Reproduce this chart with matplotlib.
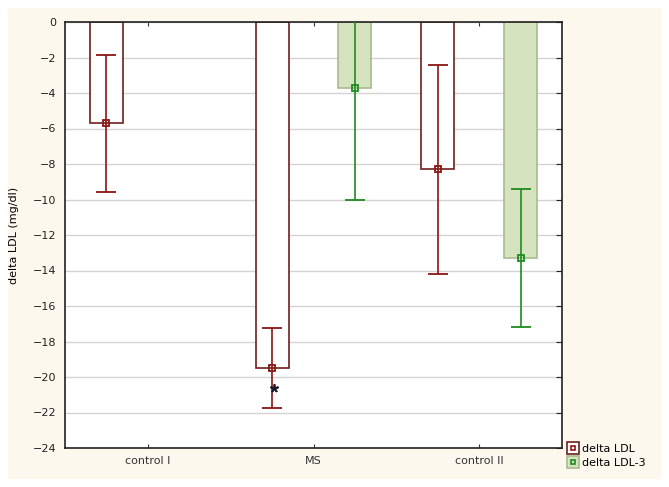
"""Grouped bar chart of delta LDL / delta LDL-3 with error bars."""

import matplotlib

matplotlib.use("Agg")
import matplotlib.pyplot as plt  # noqa: E402
import numpy as np  # noqa: E402
from matplotlib.patches import Rectangle  # noqa: E402
from matplotlib.lines import Line2D  # noqa: E402

groups = ["control I", "MS", "control II"]
ldl = [-5.7, -19.5, -8.3]
ldl_err = [3.85, 2.25, 5.9]
ldl3 = [np.nan, -3.7, -13.3]
ldl3_err = [np.nan, 6.3, 3.9]
star_value = -20.6  # significance marker under MS

red_edge = "#6e1f1f"
red_err = "#8b1515"
green_fill = "#d6e3bf"
green_edge = "#a9b98f"
green_err = "#1e8c1e"

fig = plt.figure(figsize=(6.69, 4.87), dpi=100)
fig.patches.append(Rectangle((8 / 669, 1 - 478 / 487), 652 / 669, 470 / 487,
                             transform=fig.transFigure, color="#fdf8ee", zorder=-10))
ax = fig.add_axes([65 / 669, 1 - 448 / 487, 497 / 669, 426 / 487])

x = np.arange(len(groups))
off, w = 0.25, 0.2
ax.bar(x - off, ldl, w, facecolor="white", edgecolor=red_edge, lw=1.2, zorder=2)
ax.bar(x + off, ldl3, w, facecolor=green_fill, edgecolor=green_edge, lw=1.2, zorder=2)
ax.errorbar(x - off, ldl, yerr=ldl_err, fmt="s", ms=4, mfc="none", mec=red_err,
            ecolor=red_err, elinewidth=1.2, capsize=7, capthick=1.2, zorder=3, mew=1.3)
ax.errorbar(x + off, ldl3, yerr=ldl3_err, fmt="s", ms=4, mfc="none", mec=green_err,
            ecolor=green_err, elinewidth=1.2, capsize=7, capthick=1.2, zorder=3, mew=1.3)
ax.plot([x[1] - off + 0.01], [star_value], marker=(5, 2), color="#1a1a2e", ms=6,
        mew=1.3, zorder=4, clip_on=False)

ax.set_xlim(-0.5, 2.5)
ax.set_ylim(-24, 0)
ax.set_yticks(np.arange(-24, 1, 2))
ax.set_xticks(x)
ax.set_xticklabels(groups)
ax.set_facecolor("white")
ax.yaxis.grid(True, color="#d4d4d4", lw=1)
ax.set_axisbelow(True)
for s in ax.spines.values():
    s.set_color("#222222")
    s.set_linewidth(1.2)
ax.tick_params(axis="y", direction="in", length=4, right=True, left=False,
               labelsize=8, colors="#222222", pad=6)
ax.tick_params(axis="x", direction="in", length=3, top=True, labelsize=8,
               colors="#333333", pad=6)
ax.set_ylabel("delta LDL (mg/dl)", fontsize=8, labelpad=10)

# legend keys: outlined square with a small coloured square inside
handles = [
    (Line2D([], [], ls="none", marker="s", ms=8, mfc="white", mec=red_edge, mew=1.2),
     Line2D([], [], ls="none", marker="s", ms=3, mfc="none", mec=red_err, mew=1.2)),
    (Line2D([], [], ls="none", marker="s", ms=8, mfc=green_fill, mec=green_edge, mew=1.2),
     Line2D([], [], ls="none", marker="s", ms=3, mfc="none", mec=green_err, mew=1.2)),
]
fig.legend(handles, ["delta LDL", "delta LDL-3"], loc="lower left",
           bbox_to_anchor=(564 / 669, 1 - 472 / 487), frameon=False,
           fontsize=8, handlelength=0.9, handletextpad=0.3, labelspacing=0.3,
           borderaxespad=0)
fig.savefig("out.png", dpi=100)
